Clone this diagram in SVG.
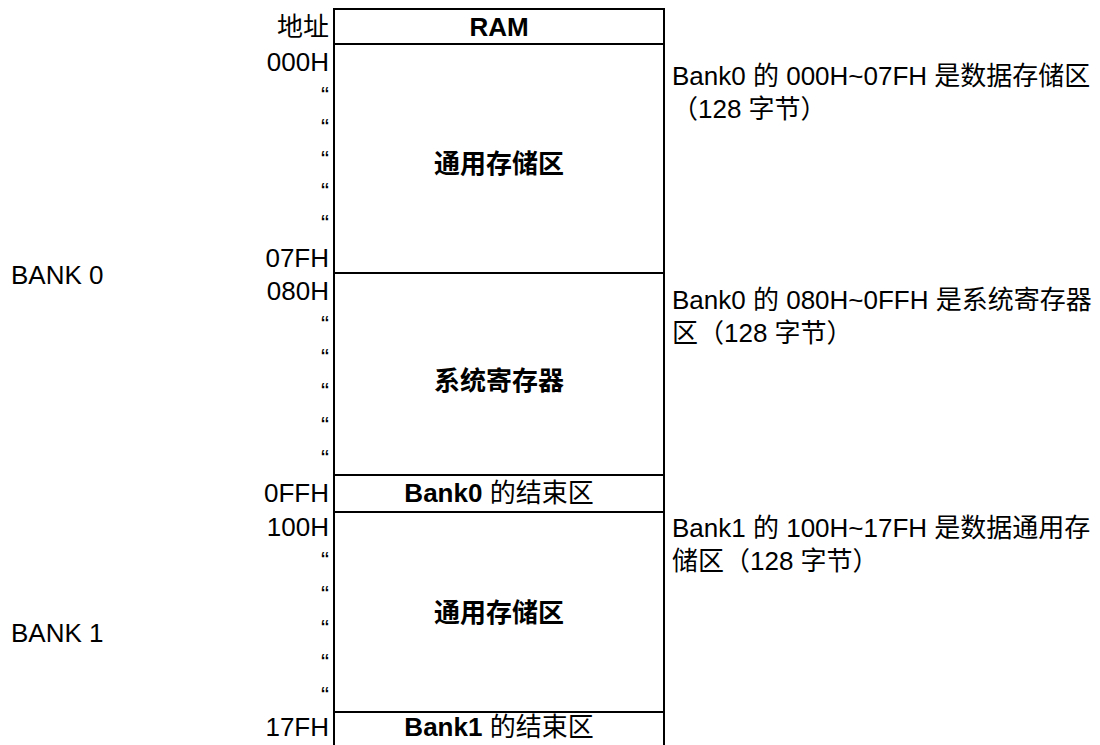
<svg xmlns="http://www.w3.org/2000/svg" width="1100" height="745" viewBox="0 0 1100 745">
<style>
.t{font-family:"Liberation Sans","Noto Sans CJK SC",sans-serif;font-size:26px;fill:#000}
.b{font-weight:bold}
.e{text-anchor:end}
.m{text-anchor:middle}
.q{font-family:"Liberation Sans",sans-serif;font-size:24px;text-anchor:end;fill:#000}
.ln{stroke:#000;stroke-width:2;fill:none}
</style>
<rect width="1100" height="745" fill="#fff"/>
<g id="table">
<path class="ln" d="M334,9V745M664,9V745M333,9H665M334,44H664M334,273H664M334,475H664M334,512H664M334,712H664"/>
</g>
<g id="header">
<text class="t e" x="329" y="36">地址</text>
<text class="t b m" x="499" y="36">RAM</text>
</g>
<g id="bank0-general">
<text class="t e" x="329" y="71">000H</text>
<text class="q" x="329" y="104">“</text>
<text class="q" x="329" y="136">“</text>
<text class="q" x="329" y="168">“</text>
<text class="q" x="329" y="200">“</text>
<text class="q" x="329" y="232">“</text>
<text class="t e" x="329" y="267">07FH</text>
<text class="t b m" x="499" y="173">通用存储区</text>
</g>
<g id="bank0-system">
<text class="t e" x="329" y="300">080H</text>
<text class="q" x="329" y="333">“</text>
<text class="q" x="329" y="366">“</text>
<text class="q" x="329" y="400">“</text>
<text class="q" x="329" y="434">“</text>
<text class="q" x="329" y="467">“</text>
<text class="t b m" x="499" y="390">系统寄存器</text>
</g>
<g id="bank0-end">
<text class="t e" x="329" y="502">0FFH</text>
<text class="t m" x="499" y="502"><tspan class="b">Bank0</tspan> 的结束区</text>
</g>
<g id="bank1-general">
<text class="t e" x="329" y="536">100H</text>
<text class="q" x="329" y="569">“</text>
<text class="q" x="329" y="603">“</text>
<text class="q" x="329" y="637">“</text>
<text class="q" x="329" y="671">“</text>
<text class="q" x="329" y="704">“</text>
<text class="t b m" x="499" y="622">通用存储区</text>
</g>
<g id="bank1-end">
<text class="t e" x="329" y="736">17FH</text>
<text class="t m" x="499" y="736"><tspan class="b">Bank1</tspan> 的结束区</text>
</g>
<g id="bank-labels">
<text class="t" x="11" y="284">BANK 0</text>
<text class="t" x="11" y="642">BANK 1</text>
</g>
<g id="notes">
<text class="t" x="672" y="85">Bank0 的 000H~07FH 是数据存储区</text>
<text class="t" x="672" y="118">（128 字节）</text>
<text class="t" x="672" y="309">Bank0 的 080H~0FFH 是系统寄存器</text>
<text class="t" x="672" y="342">区（128 字节）</text>
<text class="t" x="672" y="537">Bank1 的 100H~17FH 是数据通用存</text>
<text class="t" x="672" y="570">储区（128 字节）</text>
</g>
<g id="connectors"/>
</svg>
